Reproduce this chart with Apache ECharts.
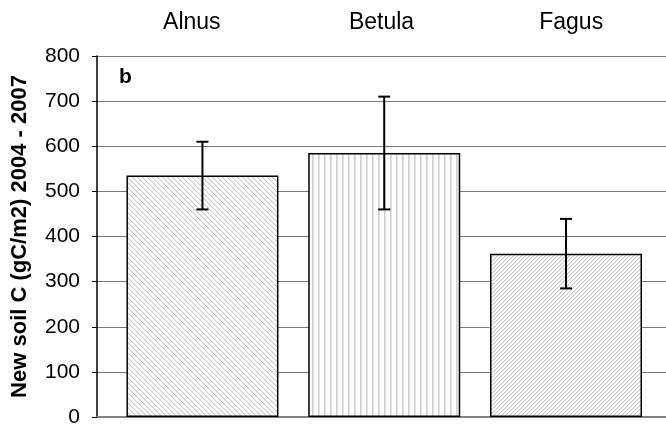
<!DOCTYPE html>
<html>
<head>
<meta charset="utf-8">
<title>New soil C 2004 - 2007</title>
<script src="https://cdn.jsdelivr.net/npm/echarts@6/dist/echarts.min.js"></script>
<style>
  html, body { margin: 0; padding: 0; background: #ffffff; }
  #chart { width: 666px; height: 424px; }
</style>
</head>
<body>
<div id="chart"></div>
<script>
// Species and measured new soil carbon (gC/m2) with error half-widths
const categories = ['Alnus', 'Betula', 'Fagus'];
const meanValues = [535, 585, 362];
const errorValues = [75, 125, 77];
const yTicks = { min: 0, max: 800, interval: 100 };
const panelLabel = 'b';
const yTitle = 'New soil C (gC/m2) 2004 - 2007';

// Hatch fills drawn into small repeating tiles
function makeTile(kind) {
  const p = kind === 'vert' ? 6 : (kind === 'back' ? 5 : 4);
  const w = p, h = kind === 'vert' ? 1 : p;
  const c = document.createElement('canvas');
  c.width = w; c.height = h;
  const ctx = c.getContext('2d');
  const img = ctx.createImageData(w, h);
  for (let y = 0; y < h; y++) {
    for (let x = 0; x < w; x++) {
      let k;
      if (kind === 'vert') k = x % p;
      else if (kind === 'back') k = ((x - y) % p + p) % p;
      else k = (x + y) % p;
      let v = 255;
      if (k === 0) v = kind === 'vert' ? 208 : 205;
      else if (k === 1) v = kind === 'vert' ? 226 : 234;
      const i = (y * w + x) * 4;
      img.data[i] = v; img.data[i + 1] = v; img.data[i + 2] = v; img.data[i + 3] = 255;
    }
  }
  ctx.putImageData(img, 0, 0);
  return c;
}
const fills = [makeTile('back'), makeTile('vert'), makeTile('fwd')];

const barData = meanValues.map((v, i) => ({
  value: [i, v],
  itemStyle: { color: { image: fills[i], repeat: 'repeat' } }
}));
const errData = meanValues.map((v, i) => [i, v - errorValues[i], v + errorValues[i]]);

const chart = echarts.init(document.getElementById('chart'), null, { renderer: 'canvas' });
chart.setOption({
  animation: false,
  backgroundColor: '#ffffff',
  textStyle: { fontFamily: 'Liberation Sans, Arial, sans-serif' },
  title: {
    text: panelLabel,
    left: 119, top: 67, padding: 0,
    textStyle: { fontSize: 21, fontWeight: 'bold', color: '#000', fontFamily: 'Liberation Sans, Arial, sans-serif' }
  },
  grid: { left: 97, right: 0, top: 56, bottom: 7, outerBoundsMode: 'none', containLabel: false },
  xAxis: [
    {
      type: 'category',
      data: categories,
      position: 'top',
      axisLine: { show: false },
      axisTick: { show: false },
      axisLabel: { fontSize: 23, color: '#000', margin: 22 },
      splitLine: { show: false }
    },
    {
      type: 'value',
      min: -0.58, max: 2.55,
      position: 'bottom',
      axisLine: { show: true, onZero: false, lineStyle: { color: '#808080', width: 2 } },
      axisTick: { show: false },
      axisLabel: { show: false },
      splitLine: { show: false }
    }
  ],
  yAxis: {
    type: 'value',
    min: yTicks.min, max: yTicks.max, interval: yTicks.interval,
    name: yTitle,
    nameLocation: 'middle',
    nameGap: 66,
    nameRotate: 90,
    nameTextStyle: { fontSize: 22, fontWeight: 'bold', color: '#000' },
    axisLine: { show: true, onZero: false, lineStyle: { color: '#000', width: 1.5 } },
    axisTick: { show: true, inside: false, length: 5, lineStyle: { color: '#000', width: 1 } },
    axisLabel: { fontSize: 21, color: '#000', margin: 17 },
    splitLine: { show: true, lineStyle: { color: '#7a7a7a', width: 1.2 } }
  },
  series: [
    {
      type: 'bar',
      xAxisIndex: 1,
      barWidth: 152,
      data: barData,
      itemStyle: { borderColor: '#000', borderWidth: 1.5 },
      z: 3
    },
    {
      type: 'custom',
      xAxisIndex: 1,
      data: errData,
      z: 5,
      renderItem: function (params, api) {
        const x = api.value(0);
        const lo = api.coord([x, api.value(1)]);
        const hi = api.coord([x, api.value(2)]);
        const cap = 6;
        const style = { stroke: '#000', lineWidth: 2 };
        return {
          type: 'group',
          children: [
            { type: 'line', shape: { x1: lo[0], y1: lo[1], x2: hi[0], y2: hi[1] }, style: style },
            { type: 'line', shape: { x1: hi[0] - cap, y1: hi[1], x2: hi[0] + cap, y2: hi[1] }, style: style },
            { type: 'line', shape: { x1: lo[0] - cap, y1: lo[1], x2: lo[0] + cap, y2: lo[1] }, style: style }
          ]
        };
      }
    }
  ]
});
</script>
</body>
</html>
